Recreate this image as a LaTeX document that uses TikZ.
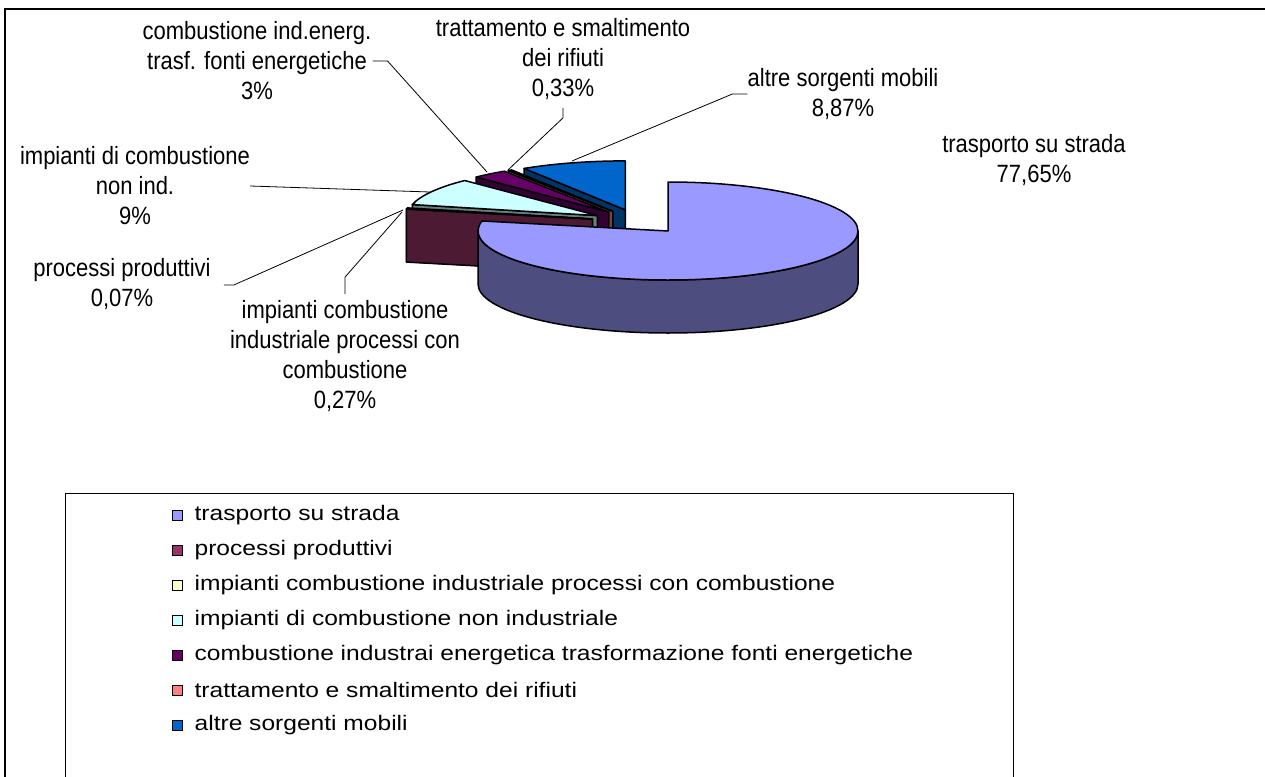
\documentclass[tikz,border=0pt]{standalone}
\usepackage{fontspec}
\setmainfont{Liberation Sans}[FakeStretch=0.88]
\newfontfamily\legendfamily{Liberation Sans}[FakeStretch=1.17]
\usetikzlibrary{positioning}

\definecolor{roadtop}{HTML}{9999FF}  \definecolor{roadside}{HTML}{4D4D80}
\definecolor{prodtop}{HTML}{993366}  \definecolor{prodside}{HTML}{4D1A33}
\definecolor{indtop}{HTML}{FFFFCC}   \definecolor{indside}{HTML}{808066}
\definecolor{civtop}{HTML}{CCFFFF}   \definecolor{civside}{HTML}{668080}
\definecolor{enetop}{HTML}{660066}   \definecolor{eneside}{HTML}{330033}
\definecolor{wastetop}{HTML}{FF8080} \definecolor{wasteside}{HTML}{804040}
\definecolor{mobtop}{HTML}{0066CC}   \definecolor{mobside}{HTML}{003366}

\newcommand{\lblfont}{\fontsize{25}{30}\selectfont}
\newcommand{\legfont}{\legendfamily\fontsize{21}{24}\selectfont}

\tikzset{
	frame/.style={draw=black, line width=2.5pt},
	legframe/.style={draw=black, line width=0.9pt},
	pie/.style={draw=black, line width=1.5pt, line join=round},
	leader/.style={draw=black, line width=0.8pt},
	lbl/.style={align=center, inner sep=0pt, font=\lblfont},
	legsq/.style={draw=black, line width=0.9pt, minimum size=10pt, inner sep=0pt},
	legtext/.style={anchor=west, inner sep=0pt, font=\legfont},
}

% one exploded slice at the back: radial face, then top
\newcommand{\pieslice}[5]{%
	\path #1 coordinate (apex) ++(#2:190pt and 49pt) coordinate (rim);
	\filldraw[pie, fill=#5] (apex) -- (rim) -- ([yshift=-53pt]rim) -- ([yshift=-53pt]apex) -- cycle;
	\filldraw[pie, fill=#4] (apex) -- (rim) arc[start angle=#2, end angle=#3, x radius=190pt, y radius=49pt] -- cycle;
}

\begin{document}
\begin{tikzpicture}[x=1pt,y=1pt]
	
	\useasboundingbox (0,0) rectangle (1265,-776);
	
	% Frame
	\draw[frame] (5,-790) -- (5,-9) -- (1280,-9);
	
	% Slices, back to front
	\pieslice{(625.3,-209.9)}{122.2}{90}{mobtop}{mobside}
	\pieslice{(612.9,-211.4)}{123.4}{122.2}{wastetop}{wasteside}
	\pieslice{(608.9,-212.1)}{134.29}{123.4}{enetop}{eneside}
	\pieslice{(597.4,-215.6)}{166.95}{134.29}{civtop}{civside}
	\pieslice{(592.5,-218.95)}{167.93}{166.95}{indtop}{indside}
	\pieslice{(592.4,-219.1)}{168.18}{167.93}{prodtop}{prodside}
	
	% Trasporto su strada
	\coordinate (road) at (668,-231);
	\filldraw[pie, fill=roadside] (road) ++(180:190pt and 49pt)
		arc[start angle=180, end angle=360, x radius=190pt, y radius=49pt] -- ++(0,-53)
		arc[start angle=360, end angle=180, x radius=190pt, y radius=49pt] -- cycle;
	\filldraw[pie, fill=roadtop] (road) -- ++(90:190pt and 49pt)
		arc[start angle=90, end angle=-191.82, x radius=190pt, y radius=49pt] -- cycle;
	
	% Labels
	\node[lbl] (roadlbl) at (1034,-160) {trasporto su strada\\77,65\%};
	\node[lbl] (moblbl) at (843,-94) {altre sorgenti mobili\\8,87\%};
	\node[lbl] (wastelbl) at (563,-59) {trattamento e smaltimento\\dei rifiuti\\0,33\%};
	\node[lbl] (enelbl) at (257,-61) {combustione ind.energ.\\trasf. fonti energetiche\\3\%};
	\node[lbl] (civlbl) at (135,-186) {impianti di combustione\\non ind.\\9\%};
	\node[lbl] (prodlbl) at (122,-284) {processi produttivi\\0,07\%};
	\node[lbl] (indlbl) at (345,-356) {impianti combustione\\industriale processi con\\combustione\\0,27\%};
	
	\coordinate (mobtip) at (572,-161);
	\coordinate (wastetip) at (508,-170);
	\coordinate (enetip) at (487,-172);
	\coordinate (civtip) at (430,-192);
	\coordinate (prodtip) at (403,-210);
	\coordinate (indtip) at (402,-212);
	
	\draw[leader] (moblbl.west) -- ++(-15,0) -- (mobtip);
	\draw[leader] ([yshift=-8pt]wastelbl.south) -- ++(0,-10) -- (wastetip);
	\draw[leader] ([xshift=1pt]enelbl.east) -- ++(15,0) -- (enetip);
	\draw[leader] (civlbl.east) -- (civtip);
	\draw[leader] ([xshift=13pt,yshift=-1pt]prodlbl.east) -- ++(10,0) -- (prodtip);
	\draw[leader] ([yshift=6pt]indlbl.north) -- ++(0,17) -- (indtip);
	
	% Legend
	\draw[legframe] (65,-790) -- (65,-493) -- (1013,-493) -- (1013,-790);
	
	\node[legsq, fill=roadtop] (sq1) at (177,-515) {};
	\node[legtext, right=12pt of sq1] (leg1) {trasporto su strada};
	\node[legsq, fill=prodtop] (sq2) at (177,-550) {};
	\node[legtext, right=12pt of sq2] (leg2) {processi produttivi};
	\node[legsq, fill=indtop] (sq3) at (177,-585) {};
	\node[legtext, right=12pt of sq3] (leg3) {impianti combustione industriale processi con combustione};
	\node[legsq, fill=civtop] (sq4) at (177,-620) {};
	\node[legtext, right=12pt of sq4] (leg4) {impianti di combustione non industriale};
	\node[legsq, fill=enetop] (sq5) at (177,-655) {};
	\node[legtext, right=12pt of sq5] (leg5) {combustione industrai energetica trasformazione fonti energetiche};
	\node[legsq, fill=wastetop] (sq6) at (177,-690) {};
	\node[legtext, right=12pt of sq6] (leg6) {trattamento e smaltimento dei rifiuti};
	\node[legsq, fill=mobtop] (sq7) at (177,-725) {};
	\node[legtext, right=12pt of sq7] (leg7) {altre sorgenti mobili};
	
\end{tikzpicture}
\end{document}
